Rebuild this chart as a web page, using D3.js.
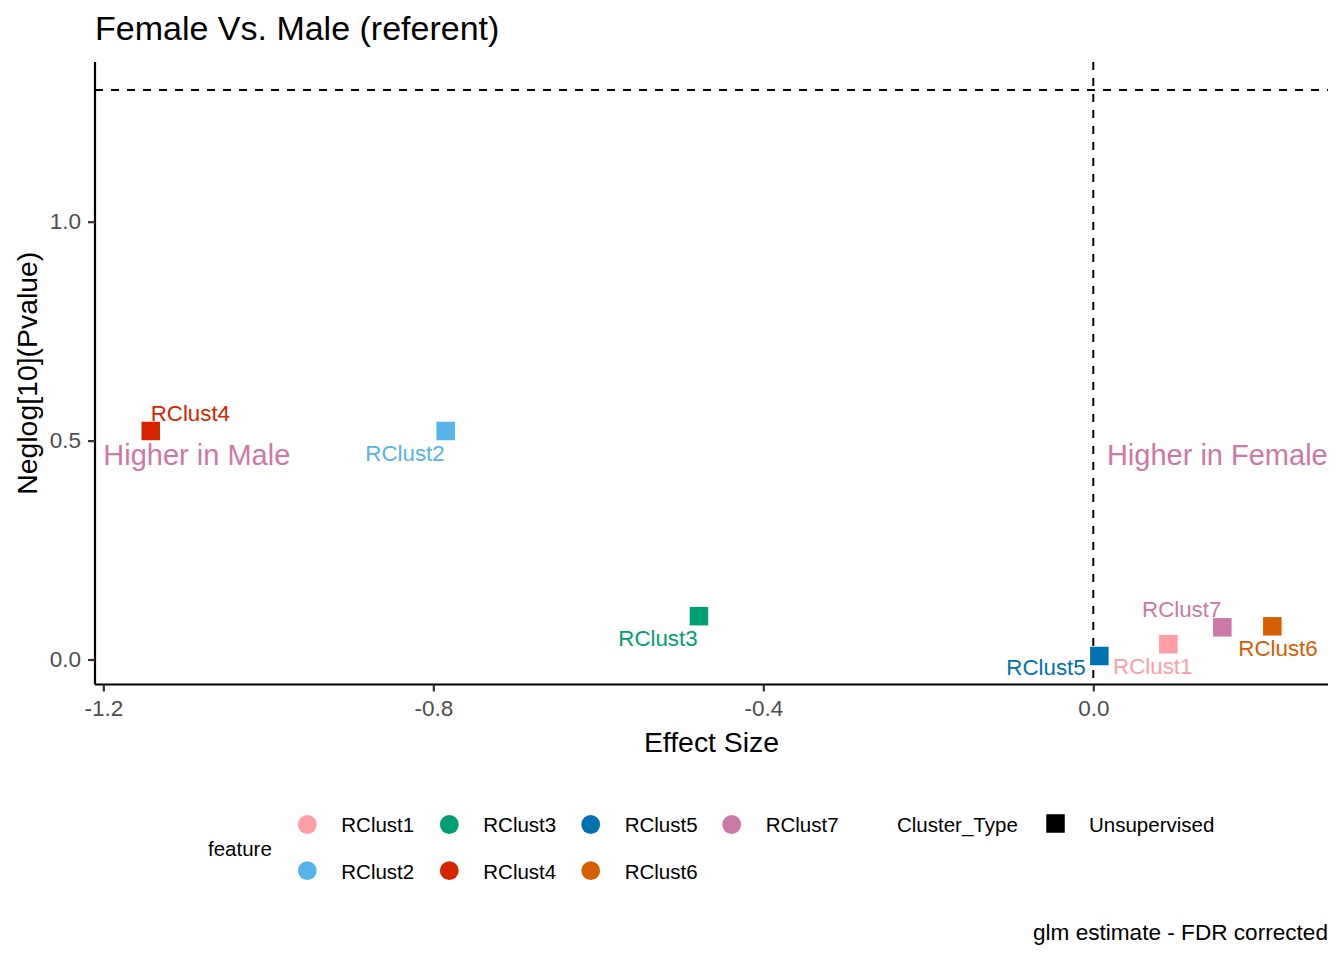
<!DOCTYPE html>
<html>
<head>
<meta charset="utf-8">
<script src="https://cdn.jsdelivr.net/npm/d3@7/dist/d3.min.js"></script>
<style>
  html, body { margin: 0; padding: 0; background: #fff; }
  svg { display: block; font-family: "Liberation Sans", Arial, sans-serif; }
</style>
</head>
<body>
<svg id="chart" width="1344" height="960"></svg>
<script>
// ---- data ----
const features   = ["RClust1", "RClust2", "RClust3", "RClust4", "RClust5", "RClust6", "RClust7"];
const effectSize = [0.091, -0.785, -0.478, -1.1425, 0.0073, 0.217, 0.1564];
const negLogP    = [0.035, 0.522, 0.099, 0.522, 0.008, 0.0758, 0.0735];
const clusterType = ["Unsupervised"];
const xTicks = [-1.2, -0.8, -0.4, 0.0];
const yTicks = [0.0, 0.5, 1.0];
const sigThreshold = -Math.log10(0.05);

// ---- styles / layout ----
const palette = ["#FF9DA7", "#56B4E9", "#009E73", "#D42500", "#0072B2", "#D55E00", "#CC79A7"];
// label nudges (pixels) emulating repel placement: [dx to text centre, dy to baseline]
const labelNudge = [[-15.6, 29.7], [-40.7, 30], [-41, 30], [39.6, -10.3], [-53.3, 19], [5.7, 29.4], [-40.6, -10.6]];

const svg = d3.select("#chart");
const panel = { left: 95, right: 1328, top: 62, bottom: 684.5 };

const x = d3.scaleLinear().domain([-1.2101, 0.2845]).range([panel.left, panel.right]);
const y = d3.scaleLinear().domain([-0.0571, 1.3648]).range([panel.bottom, panel.top]);

const fmt = v => d3.format(".1f")(v).replace("\u2212", "-");

// reference lines
svg.append("line")
  .attr("x1", panel.left).attr("x2", panel.right)
  .attr("y1", y(sigThreshold)).attr("y2", y(sigThreshold))
  .attr("stroke", "#000").attr("stroke-width", 2).attr("stroke-dasharray", "8,8");
svg.append("line")
  .attr("x1", x(0)).attr("x2", x(0))
  .attr("y1", panel.top).attr("y2", panel.bottom)
  .attr("stroke", "#000").attr("stroke-width", 2).attr("stroke-dasharray", "8,8");

// x axis
const xAxis = svg.append("g")
  .attr("transform", `translate(0,${panel.bottom})`)
  .call(d3.axisBottom(x).tickValues(xTicks).tickFormat(fmt).tickSize(7).tickPadding(9));
xAxis.select(".domain").attr("stroke", "#000").attr("stroke-width", 2.2)
  .attr("d", `M${panel.left},0H${panel.right}`);
xAxis.selectAll(".tick line").attr("stroke", "#333").attr("stroke-width", 2.2);
xAxis.selectAll(".tick text").attr("fill", "#4D4D4D").attr("font-size", "22.5px")
  .attr("font-family", "Liberation Sans, Arial, sans-serif");

// y axis
const yAxis = svg.append("g")
  .attr("transform", `translate(${panel.left},0)`)
  .call(d3.axisLeft(y).tickValues(yTicks).tickFormat(fmt).tickSize(7).tickPadding(7));
yAxis.select(".domain").attr("stroke", "#000").attr("stroke-width", 2.2)
  .attr("d", `M0,${panel.top}V${panel.bottom}`);
yAxis.selectAll(".tick line").attr("stroke", "#333").attr("stroke-width", 2.2);
yAxis.selectAll(".tick text").attr("fill", "#4D4D4D").attr("font-size", "22.5px")
  .attr("font-family", "Liberation Sans, Arial, sans-serif");

// annotations
svg.append("text").attr("x", x(-1.2)).attr("y", 464.5)
  .attr("font-size", "29px").attr("fill", "#CC79A7").text("Higher in Male");
svg.append("text").attr("x", x(0.0165)).attr("y", 465)
  .attr("font-size", "29px").attr("fill", "#CC79A7").text("Higher in Female");

// points
const sq = 18.5;
const pts = features.map((f, i) => ({ f, i, ex: effectSize[i], p: negLogP[i] }));
svg.append("g").selectAll("rect").data(pts).join("rect")
  .attr("x", d => x(d.ex) - sq / 2)
  .attr("y", d => y(d.p) - sq / 2)
  .attr("width", sq).attr("height", sq)
  .attr("fill", d => palette[d.i]);

// labels
svg.append("g").selectAll("text").data(pts).join("text")
  .attr("x", d => x(d.ex) + labelNudge[d.i][0])
  .attr("y", d => y(d.p) + labelNudge[d.i][1])
  .attr("text-anchor", "middle")
  .attr("font-size", "22.3px")
  .attr("fill", d => palette[d.i])
  .text(d => d.f);

// titles
svg.append("text").attr("x", 95).attr("y", 40).attr("font-size", "34px").attr("fill", "#000")
  .text("Female Vs. Male (referent)");
svg.append("text").attr("x", (panel.left + panel.right) / 2).attr("y", 752)
  .attr("text-anchor", "middle").attr("font-size", "28.4px").attr("fill", "#000").text("Effect Size");
svg.append("text").attr("transform", `translate(37,${(panel.top + panel.bottom) / 2}) rotate(-90)`)
  .attr("text-anchor", "middle").attr("font-size", "28.4px").attr("fill", "#000").text("Neglog[10](Pvalue)");
svg.append("text").attr("x", 1328).attr("y", 940).attr("text-anchor", "end")
  .attr("font-size", "22.6px").attr("fill", "#000").text("glm estimate - FDR corrected");

// legend: feature
const leg = svg.append("g");
leg.append("text").attr("x", 208).attr("y", 855.5).attr("font-size", "20.5px").attr("fill", "#000").text("feature");
const colX = [307.3, 449.3, 590.7, 731.7];
const rowY = [824.5, 870.7];
features.forEach((f, i) => {
  const c = Math.floor(i / 2), r = i % 2;
  leg.append("circle").attr("cx", colX[c]).attr("cy", rowY[r]).attr("r", 9.4).attr("fill", palette[i]);
  leg.append("text").attr("x", colX[c] + 34).attr("y", rowY[r] + 7.8)
    .attr("font-size", "20.5px").attr("fill", "#000").text(f);
});
// legend: Cluster_Type
leg.append("text").attr("x", 897).attr("y", 832.3).attr("font-size", "20.5px").attr("fill", "#000").text("Cluster_Type");
clusterType.forEach((t, i) => {
  leg.append("rect").attr("x", 1055.5 - sq / 2).attr("y", 823.5 - sq / 2).attr("width", sq).attr("height", sq).attr("fill", "#000");
  leg.append("text").attr("x", 1089).attr("y", 832.3).attr("font-size", "20.5px").attr("fill", "#000").text(t);
});
</script>
</body>
</html>
